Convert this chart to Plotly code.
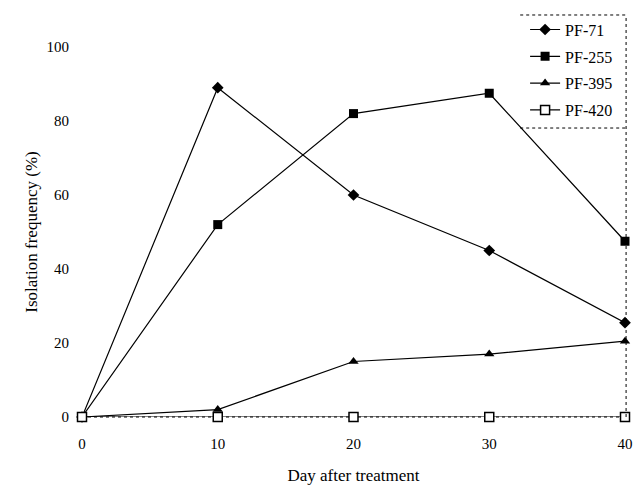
import plotly.graph_objects as go

days = [0, 10, 20, 30, 40]
series_names = ["PF-71", "PF-255", "PF-395", "PF-420"]
pf71 = [0, 89, 60, 45, 25.5]
pf255 = [0, 52, 82, 87.5, 47.5]
pf395 = [0, 2, 15, 17, 20.5]
pf420 = [0, 0, 0, 0, 0]
x_ticks = [0, 10, 20, 30, 40]
y_ticks = [0, 20, 40, 60, 80, 100]

FONT = "Liberation Serif, Times New Roman, serif"

styles = [
    dict(symbol="diamond", size=9, color="black", line=dict(width=0)),
    dict(symbol="square", size=9, color="black", line=dict(width=0)),
    dict(symbol="triangle-up", size=9, color="black", line=dict(width=0)),
    dict(symbol="square", size=9, color="white", line=dict(width=1.5, color="black")),
]
values = [pf71, pf255, pf395, pf420]

fig = go.Figure()
for i, (name, vals, mk) in enumerate(zip(series_names, values, styles)):
    fig.add_trace(go.Scatter(
        x=days, y=vals, name=name, mode="lines+markers",
        line=dict(color="black", width=1.2),
        marker=mk, cliponaxis=False, legendgroup=name,
    ))

fig.update_layout(
    width=643, height=490,
    margin=dict(l=74, r=26, t=39, b=81, autoexpand=False),
    paper_bgcolor="white", plot_bgcolor="white",
    font=dict(family=FONT, size=15, color="black"),
    showlegend=True,
    legend=dict(
        x=0.816, xanchor="left", y=1.093, yanchor="top",
        bgcolor="rgba(255,255,255,0)", borderwidth=0,
        font=dict(family=FONT, size=16),
        traceorder="grouped", tracegroupgap=3,
    ),
    xaxis=dict(
        range=[0, 40], tickvals=x_ticks, ticktext=[str(v) for v in x_ticks],
        showgrid=False, zeroline=False, showline=False, ticks="", automargin=False,
        ticklabelstandoff=16, tickfont=dict(family=FONT, size=15),
        title=dict(text="Day after treatment", font=dict(family=FONT, size=17), standoff=18),
    ),
    yaxis=dict(
        range=[0, 100], tickvals=y_ticks, ticktext=[str(v) for v in y_ticks],
        showgrid=False, zeroline=False, showline=False, ticks="", automargin=False,
        ticklabelstandoff=12, tickfont=dict(family=FONT, size=15),
        title=dict(text="Isolation frequency (%)", font=dict(family=FONT, size=17), standoff=4),
    ),
)

# dotted frame pieces (right border and legend box)
dot = dict(color="black", width=1, dash="dot")
fig.add_shape(type="line", xref="paper", yref="paper", x0=1.002, x1=1.002, y0=0, y1=1.0865, line=dot)
fig.add_shape(type="line", xref="paper", yref="paper", x0=0.807, x1=1.002, y0=1.0865, y1=1.0865, line=dot)
fig.add_shape(type="line", xref="paper", yref="paper", x0=0.807, x1=1.002, y0=0.781, y1=0.781, line=dot)
fig.add_shape(type="line", xref="paper", yref="paper", x0=0.0, x1=1.0, y0=0, y1=0,
              line=dot, layer="below")

fig.write_html("out.html")
